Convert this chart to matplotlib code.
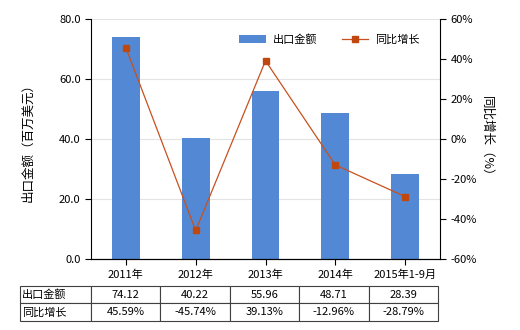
import numpy as np
import matplotlib
matplotlib.use('Agg')
import matplotlib.pyplot as plt

plt.rcParams['font.family'] = ['Noto Sans CJK SC', 'DejaVu Sans']

categories = ['2011年', '2012年', '2013年', '2014年', '2015年1-9月']
export_value = [74.12, 40.22, 55.96, 48.71, 28.39]
yoy_growth = [45.59, -45.74, 39.13, -12.96, -28.79]
value_labels = ['74.12', '40.22', '55.96', '48.71', '28.39']
growth_labels = ['45.59%', '-45.74%', '39.13%', '-12.96%', '-28.79%']

W, H = 520, 330
fig = plt.figure(figsize=(W / 100, H / 100), dpi=100)
ax = fig.add_axes([91 / W, 1 - 259 / H, 349 / W, 240 / H])

x = np.arange(len(categories))
bar_color = '#5389d4'
line_color = '#c8501e'

ax.bar(x, export_value, width=0.4, color=bar_color, label='出口金额', zorder=2)
ax.set_xlim(-0.5, len(categories) - 0.5)
ax.set_ylim(0, 80)
ax.set_yticks([0, 20, 40, 60, 80])
ax.set_yticklabels(['0.0', '20.0', '40.0', '60.0', '80.0'], fontsize=8)
ax.set_xticks(x)
ax.set_xticklabels(categories, fontsize=8)
ax.yaxis.grid(True, color='#e3e3e3', linewidth=0.8, zorder=0)
ax.set_axisbelow(True)
ax.spines['top'].set_visible(False)
ax.spines['right'].set_visible(False)
ax.tick_params(axis='both', direction='out', length=4, width=0.8)
ax.set_ylabel('出口金额（百万美元）', fontsize=9, labelpad=18)

ax2 = ax.twinx()
ax2.plot(x, yoy_growth, color=line_color, linewidth=0.9, marker='s',
         markersize=4, markerfacecolor='#c0480f', markeredgecolor='#c0480f',
         label='同比增长', zorder=3)
ax2.set_ylim(-60, 60)
ax2.set_yticks([-60, -40, -20, 0, 20, 40, 60])
ax2.set_yticklabels([f'{v}%' for v in [-60, -40, -20, 0, 20, 40, 60]], fontsize=8)
ax2.spines['top'].set_visible(False)
ax2.spines['left'].set_visible(False)
ax2.tick_params(axis='y', direction='out', length=4, width=0.8)
ax2.set_ylabel('同比增长（%）', fontsize=9, rotation=-90, labelpad=12)

h1, l1 = ax.get_legend_handles_labels()
h2, l2 = ax2.get_legend_handles_labels()
ax2.legend(h1 + h2, l1 + l2, loc='upper right', bbox_to_anchor=(0.97, 0.98),
           ncol=2, frameon=False, fontsize=8, handlelength=2.4,
           columnspacing=2.2, handletextpad=0.6)

# data table under the chart
cell_text = [value_labels, growth_labels]
row_labels = ['出口金额', '同比增长']
tab_left = (20 - 91) / 349
tab_width = (438 - 20) / 349
tab = ax.table(cellText=[[r] + c for r, c in zip(row_labels, cell_text)],
               cellLoc='center',
               colWidths=[71 / 418] + [69.4 / 418] * 5,
               bbox=[tab_left, (259 - 321) / 240, tab_width, 35.3 / 240])
tab.auto_set_font_size(False)
tab.set_fontsize(8)
for (r, c), cell in tab.get_celld().items():
    cell.set_edgecolor('#404040')
    cell.set_linewidth(0.8)
    if c == 0:
        cell.set_text_props(ha='left')
        cell.PAD = 0.03

fig.savefig('out.png', dpi=100)
